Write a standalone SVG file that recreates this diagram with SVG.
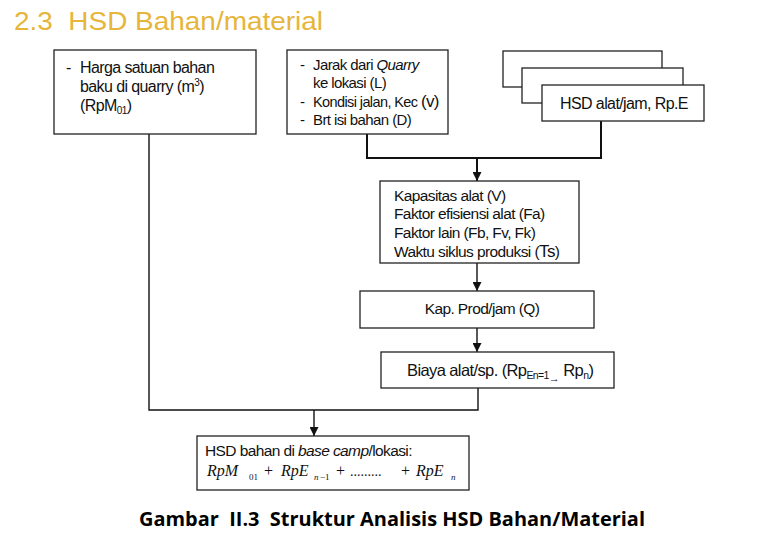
<svg xmlns="http://www.w3.org/2000/svg" width="780" height="540" viewBox="0 0 780 540">
<defs>
<style>
.box{fill:#fff;stroke:#222;stroke-width:1.3}
.t{font-family:"Liberation Sans",Arial,sans-serif;font-size:16px;fill:#111;letter-spacing:-0.6px}
.f{font-family:"Liberation Serif","Times New Roman",serif;font-style:italic;font-size:16px;fill:#111}
.fs{font-family:"Liberation Serif","Times New Roman",serif;font-style:normal;font-size:9px;fill:#111}
.c{fill:none;stroke:#111;stroke-width:1.4}
</style>
<marker id="ah" viewBox="0 0 10 10" refX="10" refY="5" markerWidth="9" markerHeight="9" markerUnits="userSpaceOnUse" orient="auto">
<path d="M0,0 L10,5 L0,10 z" fill="#111"/>
</marker>
</defs>
<rect width="780" height="540" fill="#fff"/>
<text x="14" y="30" xml:space="preserve" font-family="Liberation Sans,Arial,sans-serif" font-size="25" fill="#E6B53A" textLength="309" lengthAdjust="spacingAndGlyphs">2.3  HSD Bahan/material</text>

<g id="connectors">
<path class="c" d="M149,134 V410 H478 V388"/>
<path class="c" d="M314,410 V436" marker-end="url(#ah)"/>
<path class="c" style="stroke-width:2" d="M367,134 V158 H601 V121"/>
<path class="c" style="stroke-width:2" d="M477,158 V181" marker-end="url(#ah)"/>
<path class="c" d="M477,263 V291" marker-end="url(#ah)"/>
<path class="c" d="M477,328 V352" marker-end="url(#ah)"/>
</g>

<g id="n1">
<rect class="box" x="54" y="50" width="202" height="84"/>
<text class="t" x="66" y="73">-</text>
<text class="t" x="80" y="73">Harga satuan bahan</text>
<text class="t" x="80" y="92">baku di quarry (m<tspan font-size="10" dy="-6">3</tspan><tspan dy="6">)</tspan></text>
<text class="t" x="80" y="111">(RpM<tspan font-size="10" dy="3">01</tspan><tspan dy="-3">)</tspan></text>
</g>

<g id="n2">
<rect class="box" x="287" y="50" width="161" height="84"/>
<text class="t" x="300" y="70" style="font-size:15px">-</text>
<text class="t" x="313" y="70" style="font-size:15px">Jarak dari <tspan font-style="italic">Quarry</tspan></text>
<text class="t" x="313" y="88" style="font-size:15px">ke lokasi (L)</text>
<text class="t" x="300" y="107" style="font-size:15px">-</text>
<text class="t" x="313" y="107" style="font-size:14.5px">Kondisi jalan, Kec <tspan font-size="17">(v)</tspan></text>
<text class="t" x="300" y="125" style="font-size:15px">-</text>
<text class="t" x="313" y="125" style="font-size:15px">Brt isi bahan (D)</text>
</g>

<g id="n3">
<rect class="box" x="503" y="51" width="159" height="36"/>
<rect class="box" x="522" y="68" width="161" height="35"/>
<rect class="box" x="542" y="85" width="162" height="36"/>
<text class="t" x="560" y="109">HSD alat/jam, Rp.E</text>
</g>

<g id="n4">
<rect class="box" x="380" y="181" width="199" height="82"/>
<text class="t" x="394" y="201" style="font-size:15.5px">Kapasitas alat (V)</text>
<text class="t" x="394" y="219" style="font-size:15.5px">Faktor efisiensi alat (Fa)</text>
<text class="t" x="394" y="238" style="font-size:15.5px">Faktor lain (Fb, Fv, Fk)</text>
<text class="t" x="394" y="257" style="font-size:15.5px">Waktu siklus produksi (<tspan font-size="17">Ts</tspan>)</text>
</g>

<g id="n5">
<rect class="box" x="360" y="291" width="234" height="37"/>
<text class="t" x="482" y="314" text-anchor="middle" style="font-size:15.5px">Kap. Prod/jam (Q)</text>
</g>

<g id="n6">
<rect class="box" x="381" y="352" width="233" height="36"/>
<text class="t" x="407" y="376" style="font-size:16.5px">Biaya alat/sp. (Rp<tspan font-size="10.5" dy="3">En=1</tspan><tspan font-size="11" dy="3">→</tspan><tspan dy="-6"> Rp</tspan><tspan font-size="10.5" dy="3">n</tspan><tspan dy="-3">)</tspan></text>
</g>

<g id="n7">
<rect class="box" x="197" y="436" width="272" height="54"/>
<text class="t" x="205" y="456" style="font-size:15.5px">HSD bahan di <tspan font-style="italic">base camp</tspan>/lokasi:</text>
<text class="f" x="207" y="476">RpM</text>
<text class="fs" x="249" y="480">01</text>
<text class="fs" x="264" y="476" style="font-size:16px">+</text>
<text class="f" x="281" y="476">RpE</text>
<text class="fs" x="314" y="480" style="font-style:italic">n</text><text class="fs" x="320" y="480">−1</text>
<text class="fs" x="336" y="476" style="font-size:16px">+</text>
<text class="fs" x="350" y="476" style="font-size:14px">.........</text>
<text class="fs" x="401" y="476" style="font-size:16px">+</text>
<text class="f" x="416" y="476">RpE</text>
<text class="fs" x="451" y="480" style="font-style:italic">n</text>
</g>

<text x="392" y="526" xml:space="preserve" text-anchor="middle" font-family="Open Sans,Noto Sans,sans-serif" font-weight="bold" font-size="19" fill="#000" textLength="506" lengthAdjust="spacingAndGlyphs">Gambar  II.3  Struktur Analisis HSD Bahan/Material</text>
</svg>
